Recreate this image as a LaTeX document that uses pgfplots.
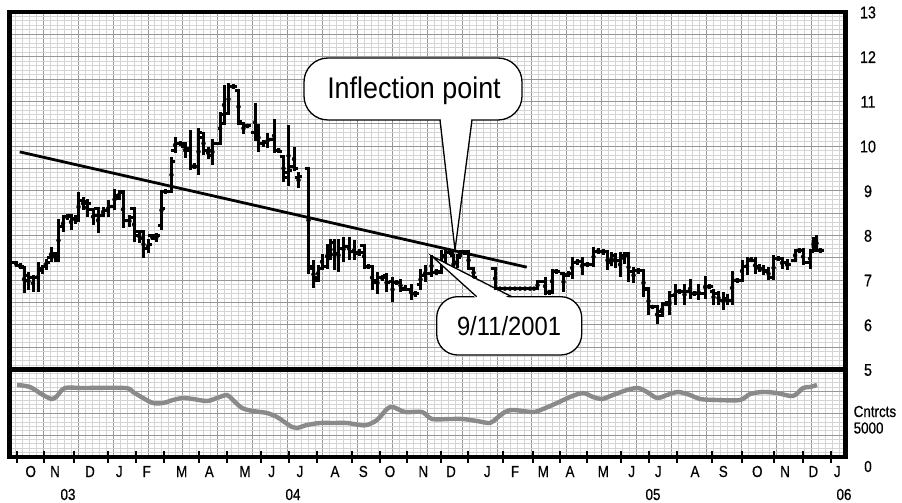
\documentclass[border=0pt]{standalone}
\usepackage{fontspec}
\setmainfont{Liberation Sans}[FakeStretch=0.9]
\newfontfamily\lblfont{Liberation Sans}[FakeStretch=0.84, FakeBold=0.6]
\usepackage{pgfplots}
\usepackage{pgfplotstable}
\pgfplotsset{compat=1.18}

\definecolor{gridmaj}{RGB}{150,150,150}
\definecolor{gridmin}{RGB}{212,212,212}
\definecolor{volgray}{RGB}{138,138,138}

% open / close ticks of a price bar
\pgfdeclareplotmark{otick}{\pgfpathmoveto{\pgfqpoint{-3.8bp}{0bp}}\pgfpathlineto{\pgfqpoint{0bp}{0bp}}\pgfusepathqstroke}
\pgfdeclareplotmark{ctick}{\pgfpathmoveto{\pgfqpoint{0bp}{0bp}}\pgfpathlineto{\pgfqpoint{3.8bp}{0bp}}\pgfusepathqstroke}

% x = horizontal position (about one unit per day), o h l c = price bar
\pgfplotstableread{
x o h l c
16 7.39 7.40 7.33 7.33
20 7.33 7.35 7.28 7.30
24 7.29 7.29 6.75 7.00
28.5 7.10 7.14 6.81 7.07
33 7.07 7.09 6.77 7.07
38 7.07 7.37 6.77 7.22
42 7.26 7.30 7.18 7.30
46 7.30 7.45 7.26 7.40
51 7.50 7.71 7.44 7.60
55 7.56 7.60 7.44 7.48
58.5 7.52 8.34 7.44 8.20
63 8.20 8.42 8.12 8.42
67 8.42 8.45 8.38 8.42
71 8.45 8.45 8.15 8.38
75 8.38 8.42 8.30 8.40
78.5 8.40 8.94 8.34 8.79
83 8.79 8.83 8.60 8.71
87 8.75 8.79 8.45 8.71
93 8.57 8.57 8.27 8.45
98 8.60 8.60 8.08 8.45
103 8.45 8.60 8.45 8.55
108 8.55 8.75 8.45 8.65
114.5 8.65 9.01 8.60 8.83
119 8.90 8.98 8.83 8.95
123 8.98 8.98 8.19 8.34
129.5 8.34 8.42 8.23 8.40
134 8.60 8.60 7.89 8.00
139.5 8.08 8.08 7.86 7.93
143.5 8.08 8.08 7.52 7.71
148 7.71 7.89 7.63 7.80
152 8.00 8.00 7.93 7.93
156.5 8.00 8.03 7.89 8.00
161.5 8.23 8.98 8.15 8.60
165.5 8.98 9.00 8.96 8.98
171.5 8.98 9.73 8.98 9.65
175 9.90 10.17 9.87 10.06
180 10.06 10.08 10.04 10.06
185 10.00 10.06 9.76 9.90
190 9.95 10.32 9.50 9.55
194 9.55 9.58 9.52 9.55
198.5 9.55 10.36 9.39 10.30
203.5 10.20 10.28 9.84 9.90
208 9.90 9.95 9.75 9.80
212.5 9.90 10.13 9.61 10.06
220 10.06 10.73 10.06 10.70
224 10.51 11.33 10.51 10.73
228.5 10.73 11.37 10.73 11.33
233 11.33 11.35 11.31 11.33
238.5 11.25 11.25 10.51 10.55
243.5 10.50 10.50 10.30 10.45
247.5 10.45 10.47 10.43 10.45
255 10.30 10.92 10.14 10.20
258.5 10.20 10.47 9.91 10.06
263 10.06 10.10 10.02 10.08
267.5 10.08 10.25 9.99 10.15
274 10.15 10.58 9.88 9.90
278.5 9.90 9.93 9.87 9.88
283.5 9.76 9.76 9.24 9.30
288.5 9.40 10.43 9.13 9.45
294 9.55 9.95 9.47 9.50
298.5 9.30 9.39 9.09 9.31
308.5 9.50 9.50 7.18 7.25
313.5 7.30 7.41 6.85 7.00
318 7.05 7.30 7.00 7.26
322 7.26 7.56 7.26 7.30
327 7.30 7.78 7.29 7.70
330.5 7.75 7.89 7.48 7.85
334 7.85 7.89 7.26 7.60
338.5 7.60 7.89 7.22 7.70
343.5 7.70 7.93 7.45 7.75
349 7.75 7.93 7.48 7.65
354 7.65 7.86 7.48 7.60
359 7.62 7.66 7.58 7.62
364 7.78 7.78 7.29 7.30
368 7.30 7.32 7.28 7.30
372 7.30 7.30 6.81 6.95
377.5 7.00 7.15 6.73 7.06
382 7.06 7.08 7.02 7.06
386.5 7.10 7.12 6.77 6.95
392.5 6.98 7.03 6.55 6.95
396.5 6.95 6.98 6.92 6.95
400.5 6.95 6.99 6.77 6.80
405 6.82 6.85 6.78 6.80
411 6.80 6.88 6.58 6.70
415 6.70 6.73 6.66 6.70
420.5 6.90 7.22 6.81 7.10
425 7.10 7.30 7.00 7.15
431.5 7.15 7.52 7.11 7.18
436 7.18 7.22 7.15 7.18
441.5 7.20 7.63 7.18 7.55
445 7.55 7.67 7.37 7.62
450 7.62 7.65 7.60 7.62
453.5 7.56 7.56 7.15 7.20
457 7.40 7.50 7.30 7.50
460 7.55 7.63 7.55 7.63
464 7.63 7.65 7.60 7.63
468.5 7.63 7.63 7.26 7.26
473.5 7.26 7.26 7.07 7.07
495 7.26 7.26 6.81 6.81
500 6.81 6.81 6.81 6.81
505 6.81 6.81 6.81 6.81
510 6.81 6.81 6.81 6.81
515 6.81 6.81 6.81 6.81
520 6.81 6.81 6.81 6.81
525 6.81 6.81 6.81 6.81
530 6.81 6.81 6.81 6.81
534 6.81 6.81 6.81 6.81
537.5 6.81 6.96 6.81 6.96
545 6.96 7.03 6.70 6.73
549 6.73 6.75 6.71 6.73
552 6.73 7.22 6.73 7.20
556 7.20 7.22 7.18 7.20
563.5 7.15 7.15 6.77 7.10
568 7.12 7.16 7.10 7.15
572 7.15 7.48 7.07 7.40
577 7.40 7.43 7.37 7.42
582 7.42 7.48 7.15 7.35
587 7.35 7.38 7.32 7.35
593.5 7.35 7.71 7.33 7.65
598 7.65 7.68 7.62 7.65
603 7.65 7.66 7.60 7.63
607.5 7.63 7.63 7.26 7.40
611.5 7.45 7.60 7.35 7.55
615 7.55 7.58 7.30 7.45
620 7.45 7.59 7.11 7.55
624 7.55 7.59 7.40 7.55
628.5 7.59 7.59 6.99 7.20
633.5 7.20 7.26 6.96 7.22
638 7.22 7.24 7.18 7.22
643.5 7.22 7.22 6.66 6.80
648.5 6.81 6.81 6.25 6.40
652.5 6.40 6.42 6.38 6.40
657 6.40 6.40 6.06 6.20
662 6.30 6.47 6.21 6.45
666 6.47 6.49 6.45 6.47
669.5 6.47 6.73 6.25 6.65
675 6.65 6.88 6.47 6.75
679 6.75 6.77 6.73 6.75
684.5 6.75 6.88 6.47 6.75
690 6.75 6.99 6.62 6.70
694 6.70 6.72 6.68 6.70
698.5 6.70 6.88 6.58 6.70
705 6.70 7.07 6.62 6.85
709 6.85 6.87 6.83 6.85
713.5 6.75 6.77 6.47 6.70
718.5 6.70 6.73 6.47 6.55
723.5 6.55 6.70 6.36 6.60
727 6.60 6.65 6.47 6.55
732 6.55 7.18 6.47 7.00
737 7.00 7.02 6.98 7.00
742 7.00 7.41 7.00 7.30
747 7.30 7.48 7.14 7.45
751 7.45 7.48 7.43 7.45
755 7.45 7.48 7.18 7.30
759 7.30 7.32 7.22 7.25
763.5 7.25 7.30 7.14 7.22
768.5 7.20 7.26 7.03 7.05
773.5 7.05 7.52 7.03 7.48
778 7.48 7.50 7.46 7.48
782 7.48 7.48 7.29 7.40
787 7.40 7.45 7.25 7.35
795 7.44 7.67 7.44 7.67
799 7.67 7.69 7.65 7.67
803 7.67 7.68 7.37 7.40
810 7.40 7.67 7.29 7.65
813.5 7.67 7.93 7.67 7.90
816.5 7.90 7.98 7.67 7.67
820 7.67 7.69 7.65 7.67
}\bars

\pgfplotsset{
  paper/.style={
    scale only axis, width=836bp,
    xmin=9.5, xmax=845.5,
    xtick={43.3,78.2,...,812}, minor xtick={15.38,22.36,...,842},
    xticklabels={}, yticklabels={},
    scaled ticks=false,
    major tick length=0pt, minor tick length=0pt,
    grid=both,
    major grid style={draw=gridmaj, line width=1bp},
    minor grid style={draw=gridmin, line width=1bp},
    axis line style={line width=4.8bp, line cap=rect},
  },
}

\begin{document}
\begin{tikzpicture}[x=1bp, y=-1bp]
\useasboundingbox (0,0) rectangle (902,503);

% price panel
\begin{axis}[paper,
  at={(9.5bp,-369.5bp)}, anchor=south west, height=357.5bp,
  ymin=5, ymax=13,
  ytick={5,5.5,...,13}, minor ytick={5.1,5.2,...,12.95},
]
\addplot[forget plot, only marks, mark=none,
  error bars/.cd, y dir=both, y explicit, error mark=none,
  error bar style={draw=black, line width=3bp, line cap=rect}]
  table[x=x, y expr={(\thisrow{h}+\thisrow{l})/2},
        y error expr={(\thisrow{h}-\thisrow{l})/2}] {\bars};
\addplot[only marks, mark=otick, mark options={draw=black, line width=3bp}]
  table[x=x, y=o] {\bars};
\addplot[only marks, mark=ctick, mark options={draw=black, line width=3bp}]
  table[x=x, y=c] {\bars};
\addplot[black, line width=2.8bp] coordinates {(19.7,9.87) (526.7,7.29)};
\end{axis}

% contracts panel
\begin{axis}[paper,
  at={(9.5bp,-457bp)}, anchor=south west, height=87.5bp,
  ymin=0, ymax=10000,
  ytick={0,2500,...,10000}, minor ytick={500,1000,...,9500},
  xtick pos=bottom, ytick pos=left,
  extra x ticks={17,44,74,108,136,164,199,227,261,289,317,352,380,407,441,468,503,533,560,587,621,649,677,712,742,774,803,831},
  extra x tick labels={},
  extra x tick style={grid=none, major tick length=12bp, tick align=center,
    tick style={draw=black, line width=2.2bp}},
]
\addplot[volgray, line width=4.4bp, smooth] coordinates {
(17,8229) (30,8000) (43,7086) (52,6629) (57,6972) (65,7886) (83,7886) (125,7886)
(133,7429) (143,6743) (153,6172) (163,6172) (173,6514) (183,6743) (193,6629)
(207,6400) (217,6743) (227,7086) (233,6514) (242,5600) (253,5257) (267,5029)
(277,4571) (283,4114) (292,3429) (297,3314) (307,3657) (320,3886) (333,3886)
(347,3886) (360,3657) (367,3657) (377,4229) (387,5486) (393,5714) (405,5143)
(422,5143) (432,4343) (450,4343) (463,4343) (477,4114) (490,3886) (497,4457)
(505,5143) (513,5371) (533,5143) (543,5486) (557,6172) (570,6857) (583,7314)
(593,6857) (602,6629) (613,7086) (627,7657) (638,7886) (647,7429) (657,6743)
(667,7086) (678,7429) (690,7086) (700,6629) (717,6514) (740,6514) (750,7200)
(763,7429) (777,7314) (793,6972) (803,7886) (810,8000) (817,8229)};
\end{axis}

% callouts
\draw[fill=white, line width=1.3bp, rounded corners=24bp] (304,58) rectangle (522,120);
\fill[white] (440.5,117) -- (455,250) -- (471.5,117) -- cycle;
\draw[line width=1.3bp, line join=miter] (440,120) -- (455,250) -- (472,120);
\node[font=\fontsize{30}{31}\selectfont, anchor=base] at (414,98.5) {Inflection point};

\draw[fill=white, line width=1.3bp, rounded corners=21bp] (436.7,296.7) rectangle (581.7,355);
\fill[white] (477,299) -- (431.7,256) -- (511,299) -- cycle;
\draw[line width=1.3bp, line join=miter] (476.7,296.7) -- (431.7,256) -- (511.7,296.7);
\node[font=\fontsize{26.5}{28}\selectfont, anchor=base] at (509,335.5) {9/11/2001};

% right-hand scale
\foreach \v/\py in {13/12,12/56.7,11/101.4,10/146.1,9/190.8,8/235.4,7/280.1,6/324.8,5/369.5}
  \node[font=\lblfont\fontsize{17}{19}\selectfont, anchor=base] at (868,\py+6.3) {\v};
\node[font=\lblfont\fontsize{16}{18}\selectfont, anchor=base west, inner sep=0pt] at (853.5,417) {Cntrcts};
\node[font=\lblfont\fontsize{16}{18}\selectfont, anchor=base west, inner sep=0pt] at (853.5,433.5) {5000};
\node[font=\lblfont\fontsize{16}{18}\selectfont, anchor=base] at (868,472) {0};

% months and years
\foreach \m/\xx in {O/30.7,N/55,D/90,J/119.3,F/146.7,M/181.7,A/209.3,M/245,J/271.7,J/300,A/335,S/363.3,O/390,N/423.3,D/451,J/487.3,F/515,M/543.3,A/570,M/603.3,J/631.7,J/658.3,A/695,S/723.3,O/757.3,N/785,D/813.3,J/837.3}
  \node[font=\lblfont\fontsize{16}{18}\selectfont, anchor=base] at (\xx,477) {\m};
\foreach \yr/\xx in {03/68,04/293,05/653,06/844}
  \node[font=\lblfont\fontsize{16}{18}\selectfont, anchor=base] at (\xx,500) {\yr};
\end{tikzpicture}
\end{document}
